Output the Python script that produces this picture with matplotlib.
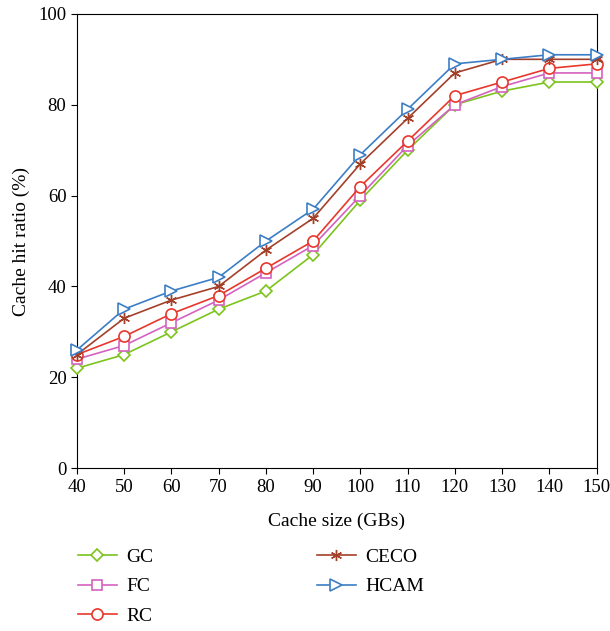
import matplotlib.pyplot as plt

plt.rcParams['font.family'] = ['Liberation Serif', 'DejaVu Serif']

cache_sizes = [40, 50, 60, 70, 80, 90, 100, 110, 120, 130, 140, 150]
gc = [22, 25, 30, 35, 39, 47, 59, 70, 80, 83, 85, 85]
fc = [24, 27, 32, 37, 43, 49, 60, 71, 80, 84, 87, 87]
rc = [25, 29, 34, 38, 44, 50, 62, 72, 82, 85, 88, 89]
ceco = [25, 33, 37, 40, 48, 55, 67, 77, 87, 90, 90, 90]
hcam = [26, 35, 39, 42, 50, 57, 69, 79, 89, 90, 91, 91]

series = [
    ("GC", gc, "#7cc41c", "D", 6),
    ("FC", fc, "#d462c0", "s", 6.5),
    ("RC", rc, "#e8372b", "o", 8),
    ("CECO", ceco, "#a3402a", (6, 2, 0), 8),
    ("HCAM", hcam, "#3b7ec6", ">", 9),
]

fig = plt.figure(figsize=(6.1, 6.31), dpi=100)
ax = fig.add_axes([0.126, 0.258, 0.852, 0.72])

for name, vals, color, marker, ms in series:
    if name == "CECO":
        ax.plot(cache_sizes, vals, color=color, lw=1.2, marker=marker, ms=ms,
                mew=1.0, label=name, clip_on=False, zorder=3)
    else:
        ax.plot(cache_sizes, vals, color=color, lw=1.2, marker=marker, ms=ms,
                mfc="white", mec=color, mew=1.2, label=name, clip_on=False, zorder=3)

ax.set_xlim(40, 150)
ax.set_ylim(0, 100)
ax.set_xticks(cache_sizes)
ax.set_yticks(range(0, 101, 20))
ax.tick_params(labelsize=13.5, direction="out", length=4)
ax.set_xlabel("Cache size (GBs)", fontsize=14, labelpad=12)
ax.set_ylabel("Cache hit ratio (%)", fontsize=14, labelpad=6)

fig.legend(loc="upper left", bbox_to_anchor=(0.115, 0.143), ncol=2, frameon=False,
           fontsize=14, columnspacing=8.4, handlelength=2.0, handletextpad=0.5,
           labelspacing=0.6, borderaxespad=0)

plt.savefig("out.png")
